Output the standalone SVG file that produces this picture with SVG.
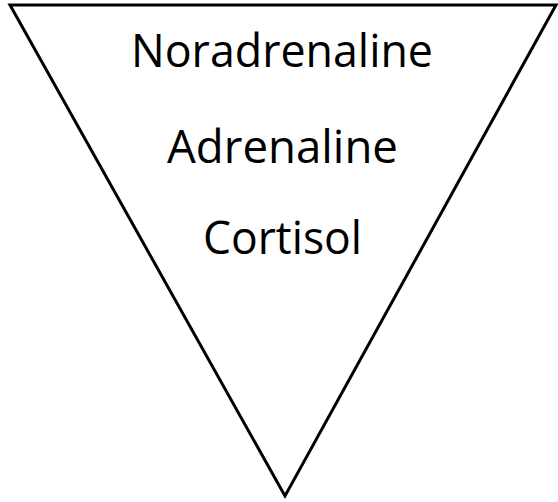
<svg xmlns="http://www.w3.org/2000/svg" width="558" height="502" viewBox="0 0 558 502">
<style>
.lbl{font-family:"Open Sans","Liberation Sans",sans-serif;font-size:45px;fill:#000;text-anchor:middle}
.tri{fill:#fff;stroke:#000;stroke-width:3;stroke-linejoin:miter}
</style>
<rect width="558" height="502" fill="#fff"/>
<g id="triangle">
<polygon class="tri" points="10,5 556,5 285,496"/>
</g>
<g id="labels">
<text class="lbl" x="282" y="67" textLength="302" lengthAdjust="spacingAndGlyphs">Noradrenaline</text>
<text class="lbl" x="282.5" y="163" textLength="231" lengthAdjust="spacingAndGlyphs">Adrenaline</text>
<text class="lbl" x="282.5" y="254" textLength="159" lengthAdjust="spacingAndGlyphs">Cortisol</text>
</g>
</svg>
